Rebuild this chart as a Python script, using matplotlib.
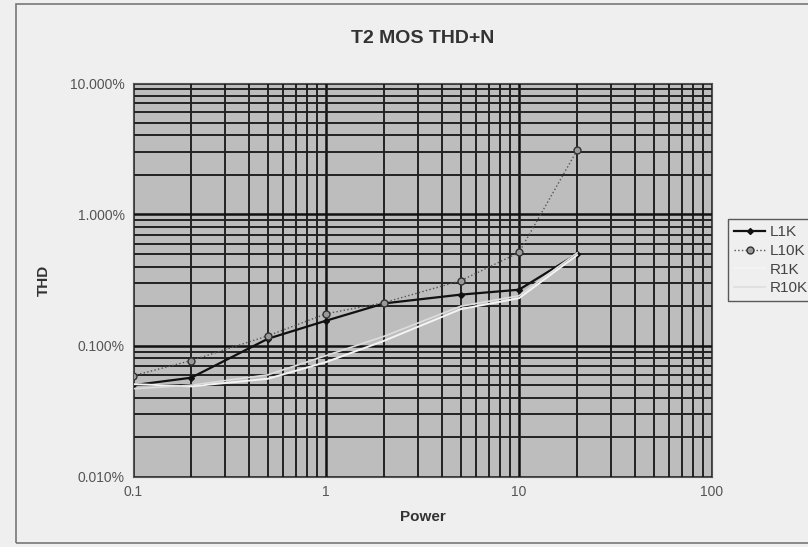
import matplotlib
matplotlib.use("Agg")
import matplotlib.pyplot as plt
from matplotlib.patches import Rectangle
from matplotlib.ticker import FuncFormatter, LogLocator, NullFormatter

plt.rcParams['font.family'] = ['Liberation Sans', 'DejaVu Sans']

# data (power in W, THD in %)
power = [0.1, 0.2, 0.5, 1, 2, 5, 10, 20]
l1k = [0.050, 0.057, 0.113, 0.155, 0.21, 0.245, 0.267, 0.50]
l10k = [0.059, 0.077, 0.119, 0.175, 0.213, 0.313, 0.513, 3.08]
r1k = [0.051, 0.049, 0.056, 0.075, 0.109, 0.19, 0.23, 0.49]
r10k = [0.047, 0.050, 0.060, 0.084, 0.118, 0.20, 0.24, 0.51]

fig = plt.figure(figsize=(8.08, 5.47), dpi=100)
fig.patch.set_facecolor('#efefef')
# chart area border
fig.patches.append(Rectangle((16 / 808, 4 / 547), 1.2, 539 / 547, transform=fig.transFigure,
                             fill=False, edgecolor='#777777', linewidth=1.2))

ax = fig.add_axes([0.1646, 0.128, 0.7166, 0.720])
ax.set_facecolor('#bdbdbd')

ax.set_xscale('log')
ax.set_yscale('log')
ax.set_xlim(0.1, 100)
ax.set_ylim(0.01, 10)

ax.yaxis.set_major_locator(LogLocator(base=10))
ax.yaxis.set_minor_locator(LogLocator(base=10, subs=range(2, 10)))
ax.xaxis.set_minor_locator(LogLocator(base=10, subs=range(2, 10)))
ax.yaxis.set_minor_formatter(NullFormatter())
ax.xaxis.set_minor_formatter(NullFormatter())
ax.yaxis.set_major_formatter(FuncFormatter(lambda v, p: '%.3f%%' % v))
ax.xaxis.set_major_formatter(FuncFormatter(lambda v, p: '%g' % v))

ax.grid(True, which='major', color='#111111', linewidth=1.8)
ax.grid(True, which='minor', color='#222222', linewidth=1.4)
ax.set_axisbelow(True)
ax.tick_params(which='both', length=0, labelsize=10, labelcolor='#555555', pad=6)
for s in ax.spines.values():
    s.set_color('#555555')

ax.plot(power, l1k, color='#111111', linewidth=1.6, marker='D', markersize=3, label='L1K')
ax.plot(power, l10k, color='#555555', linewidth=1.0, linestyle=':', marker='o',
        markersize=5, markerfacecolor='#999999', markeredgecolor='#333333', label='L10K')
ax.plot(power, r1k, color='#f4f4f4', linewidth=1.4, label='R1K')
ax.plot(power, r10k, color='#dddddd', linewidth=1.2, label='R10K')

ax.set_title('T2 MOS THD+N', fontsize=14, fontweight='bold', color='#333333', pad=29)
ax.set_xlabel('Power', fontsize=11, fontweight='bold', color='#333333', labelpad=8)
ax.set_ylabel('THD', fontsize=11, fontweight='bold', color='#333333', labelpad=14)

leg = ax.legend(loc='center left', bbox_to_anchor=(1.015, 0.55), frameon=True,
                fontsize=11, handlelength=2.0, borderpad=0.4, labelspacing=0.3,
                handletextpad=0.3, fancybox=False)
leg.get_frame().set_edgecolor('#333333')
leg.get_frame().set_facecolor('#efefef')
for t in leg.get_texts():
    t.set_color('#444444')

fig.savefig('out.png', dpi=100, facecolor=fig.get_facecolor())
